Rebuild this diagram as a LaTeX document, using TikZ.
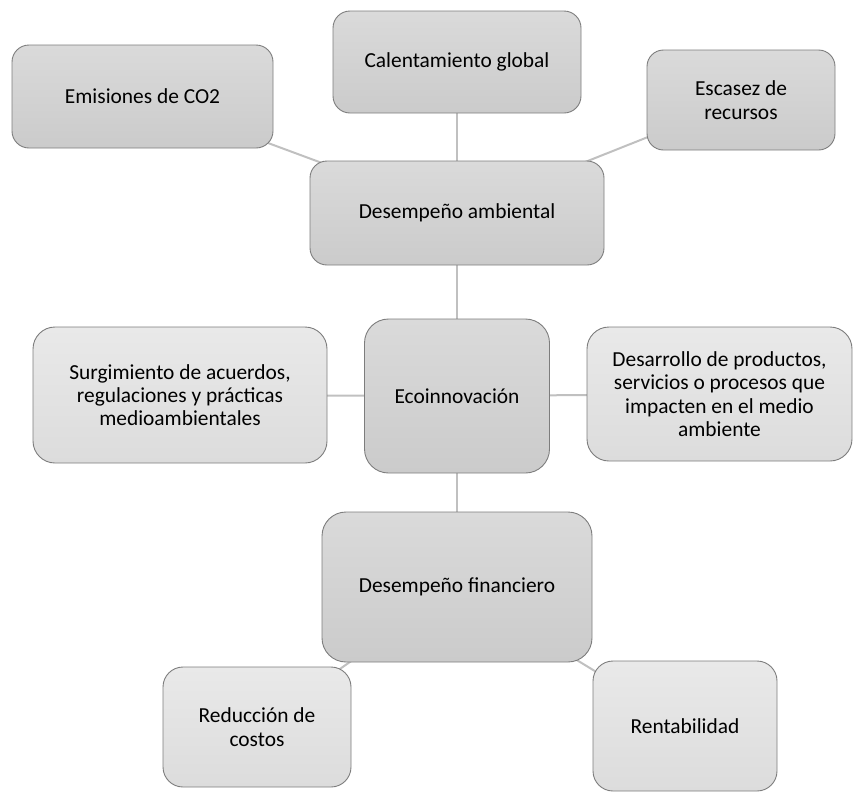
\documentclass[tikz,border=0pt]{standalone}
\usepackage{fontspec}
\setmainfont{Carlito}
\usetikzlibrary{backgrounds}
\definecolor{edgegray}{RGB}{125,125,125}
\definecolor{linkgray}{RGB}{192,192,192}
\definecolor{darktop}{RGB}{218,218,218}
\definecolor{darkbot}{RGB}{203,203,203}
\definecolor{lighttop}{RGB}{233,233,233}
\definecolor{lightbot}{RGB}{220,220,220}
\tikzset{
  box/.style={draw=edgegray, line width=0.9pt, rounded corners=#1, align=center,
    inner sep=0pt, font=\fontsize{21.4}{23.3}\selectfont},
  darkfill/.style={top color=darktop, bottom color=darkbot},
  lightfill/.style={top color=lighttop, bottom color=lightbot},
  link/.style={draw=linkgray, line width=2pt}
}
\begin{document}
\begin{tikzpicture}[x=1pt,y=-1pt]
\useasboundingbox (0,0) rectangle (853,793);

% top row: causes
\node[box=17pt, darkfill, minimum width=261pt, minimum height=103pt] (em) at (142.5,96.5) {Emisiones de CO2};
\node[box=17pt, darkfill, minimum width=248pt, minimum height=102pt] (cg) at (457,62) {Calentamiento global};
\node[box=16.5pt, darkfill, minimum width=188pt, minimum height=100pt] (es) at (741,100) {Escasez de\\recursos};

% environmental performance
\node[box=17pt, darkfill, minimum width=294pt, minimum height=104pt] (da) at (457,213) {Desempeño ambiental};

% middle row
\node[box=24pt, darkfill, minimum width=185pt, minimum height=154pt] (eco) at (457,396) {Ecoinnovación};
\node[box=22pt, lightfill, minimum width=294pt, minimum height=136pt] (su) at (180,395) {Surgimiento de acuerdos,\\regulaciones y prácticas\\medioambientales};
\node[box=22pt, lightfill, minimum width=265pt, minimum height=134pt] (de) at (719.5,394) {Desarrollo de productos,\\servicios o procesos que\\impacten en el medio\\ambiente};

% financial performance
\node[box=24pt, darkfill, minimum width=270pt, minimum height=150pt] (df) at (457,587) {Desempeño financiero};
\node[box=20pt, lightfill, minimum width=188pt, minimum height=120pt] (rc) at (257,727) {Reducción de\\costos};
\node[box=20pt, lightfill, minimum width=184pt, minimum height=130pt] (re) at (685,726) {Rentabilidad};

% connectors run centre to centre behind the boxes
\begin{scope}[on background layer]
  \draw[link] (em.center) -- (da.center);
  \draw[link] (cg.center) -- (da.center);
  \draw[link] (es.center) -- (da.center);
  \draw[link] (da.center) -- (eco.center);
  \draw[link] (su.center) -- (eco.center);
  \draw[link] (eco.center) -- (de.center);
  \draw[link] (eco.center) -- (df.center);
  \draw[link] (df.center) -- (rc.center);
  \draw[link] (df.center) -- (re.center);
\end{scope}
\end{tikzpicture}
\end{document}
